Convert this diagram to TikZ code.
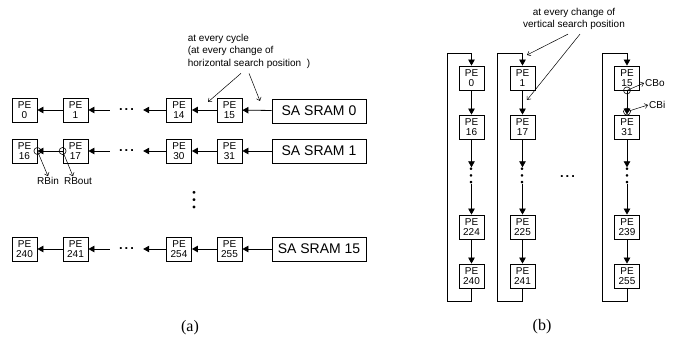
\documentclass[tikz,border=0pt]{standalone}
\usepackage{fontspec}
\setmainfont{Liberation Serif}
\setsansfont{Liberation Sans}
\newfontfamily\dotfont{Noto Sans CJK SC}
\usetikzlibrary{arrows.meta}

% boxes, taps and arrows shared by both halves
\tikzset{
  pe/.style={draw,line width=0.8pt,minimum width=25pt,minimum height=24pt,inner sep=0pt,align=center,
    font=\sffamily\fontsize{10}{10.5}\selectfont},
  sram/.style={draw,line width=0.8pt,minimum width=94pt,minimum height=24pt,inner sep=0pt,
    font=\sffamily\fontsize{14}{14}\selectfont},
  hdots/.style={inner sep=0pt,font=\sffamily\bfseries\fontsize{13}{13}\selectfont},
  vdots/.style={inner sep=0pt,font=\dotfont\fontsize{20}{20}\selectfont},
  tap/.style={draw,circle,line width=0.6pt,minimum size=7pt,inner sep=0pt},
  lbl/.style={inner sep=1pt,font=\sffamily\fontsize{10}{12.5}\selectfont},
  flow/.style={line width=0.8pt,-{Triangle[length=6pt,width=6.5pt]}},
  hint/.style={line width=0.5pt,-{Straight Barb[length=3pt,width=5pt]}},
}
\newcommand{\hdotrow}{.\kern2pt.\kern2pt.}
\newcommand{\vdotrow}{︙}

\begin{document}
\begin{tikzpicture}[x=1pt,y=-1pt]
\useasboundingbox (0,0) rectangle (673,342);

% (a) rows fed from the SA SRAMs
\node[pe] (h0) at (24.5,110) {PE\\0};
\node[pe] (h1) at (75.5,110) {PE\\1};
\node[hdots,minimum width=33pt] (hd0) at (126.5,110) {\hdotrow};
\node[pe] (h14) at (179,110) {PE\\14};
\node[pe] (h15) at (229.5,110) {PE\\15};
\node[sram] (sram0) at (319,111) {SA SRAM 0};
\draw[flow] (sram0) -- (h15);
\draw[flow] (h15) -- (h14);
\draw[flow] (h14) -- (hd0);
\draw[flow] (hd0) -- (h1);
\draw[flow] (h1) -- (h0);

\node[pe] (h16) at (24.5,151) {PE\\16};
\node[pe] (h17) at (75.5,151) {PE\\17};
\node[hdots,minimum width=33pt] (hd1) at (126.5,151) {\hdotrow};
\node[pe] (h30) at (179,151) {PE\\30};
\node[pe] (h31) at (229.5,151) {PE\\31};
\node[sram] (sram1) at (319,151) {SA SRAM 1};
\draw[flow] (sram1) -- (h31);
\draw[flow] (h31) -- (h30);
\draw[flow] (h30) -- (hd1);
\draw[flow] (hd1) -- (h17);
\draw[flow] (h17) -- (h16);

\node[pe] (h240) at (24.5,249) {PE\\240};
\node[pe] (h241) at (75.5,249) {PE\\241};
\node[hdots,minimum width=33pt] (hd15) at (126.5,249) {\hdotrow};
\node[pe] (h254) at (179,249) {PE\\254};
\node[pe] (h255) at (229.5,249) {PE\\255};
\node[sram] (sram15) at (319,249) {SA SRAM 15};
\draw[flow] (sram15) -- (h255);
\draw[flow] (h255) -- (h254);
\draw[flow] (h254) -- (hd15);
\draw[flow] (hd15) -- (h241);
\draw[flow] (h241) -- (h240);

\node[vdots,font=\dotfont\fontsize{22}{22}\selectfont] (hvd) at (194,200) {\vdotrow};

% RB taps
\node[tap] (rbin) at (h16.east) {};
\node[tap] (rbout) at (h17.west) {};
\node[lbl] (rbinl) at (48,181) {RBin};
\node[lbl] (rboutl) at (78,181) {RBout};
\draw[hint] (rbin.center) -- (rbinl.north);
\draw[hint] (rbout.center) -- ([xshift=-5pt]rboutl.north);

\node[lbl,align=left] (hnote) at (249,51) {at every cycle\\(at every change of\\horizontal search position\ \ )};
\coordinate (hta) at (208,102);
\coordinate (htb) at (260,101);
\draw[hint] ([xshift=-8pt,yshift=-4pt]hnote.south) -- (hta);
\draw[hint] ([yshift=-4pt]hnote.south) -- (htb);

% (b) columns with wrap-around
\node[pe] (v0) at (471.5,78) {PE\\0};
\node[pe] (v16) at (471.5,127) {PE\\16};
\node[vdots] (vd0) at (471.5,175.5) {\vdotrow};
\node[pe] (v224) at (471.5,227) {PE\\224};
\node[pe] (v240) at (471.5,276) {PE\\240};
\draw[flow] (v0) -- (v16);
\draw[flow] (v16) -- (vd0);
\draw[flow] (vd0) -- (v224);
\draw[flow] (v224) -- (v240);
\draw[flow] (v240.south) -- ++(0,13) -- ++(-24.5,0) -- ++(0,-248) -| (v0.north);

\node[pe] (v1) at (522.5,78) {PE\\1};
\node[pe] (v17) at (522.5,127) {PE\\17};
\node[vdots] (vd1) at (522.5,175.5) {\vdotrow};
\node[pe] (v225) at (522.5,227) {PE\\225};
\node[pe] (v241) at (522.5,276) {PE\\241};
\draw[flow] (v1) -- (v17);
\draw[flow] (v17) -- (vd1);
\draw[flow] (vd1) -- (v225);
\draw[flow] (v225) -- (v241);
\draw[flow] (v241.south) -- ++(0,13) -- ++(-25.5,0) -- ++(0,-248) -| (v1.north);

\node[pe] (v15) at (627,78) {PE\\15};
\node[pe] (v31) at (627,127) {PE\\31};
\node[vdots] (vd2) at (627,175.5) {\vdotrow};
\node[pe] (v239) at (627,227) {PE\\239};
\node[pe] (v255) at (627,276) {PE\\255};
\draw[flow] (v15) -- (v31);
\draw[flow] (v31) -- (vd2);
\draw[flow] (vd2) -- (v239);
\draw[flow] (v239) -- (v255);
\draw[flow] (v255.south) -- ++(0,13) -- ++(-25,0) -- ++(0,-248) -| (v15.north);

\node[hdots] (vhd) at (567.5,177) {\hdotrow};

% CB taps
\node[tap] (cbo) at (v15.south) {};
\node[tap] (cbi) at ([yshift=3pt]v31.north) {};
\node[lbl,anchor=west] (cbol) at (644,83) {CBo};
\node[lbl,anchor=west] (cbil) at (648,105) {CBi};
\draw[hint] (cbo.center) -- (cbol.west);
\draw[hint] (cbi.center) -- (cbil.west);

\node[lbl,align=center] (vnote) at (574,19) {at every change of\\vertical search position};
\coordinate (vta) at (527,55);
\coordinate (vtb) at (527,100);
\draw[hint] ([xshift=-6pt,yshift=-3pt]vnote.south) -- (vta);
\draw[hint] ([xshift=6pt,yshift=-3pt]vnote.south) -- (vtb);

% captions
\node[font=\fontsize{16}{16}\selectfont] (capa) at (190,328) {(a)};
\node[font=\fontsize{16}{16}\selectfont] (capb) at (542,327) {(b)};
\end{tikzpicture}
\end{document}
